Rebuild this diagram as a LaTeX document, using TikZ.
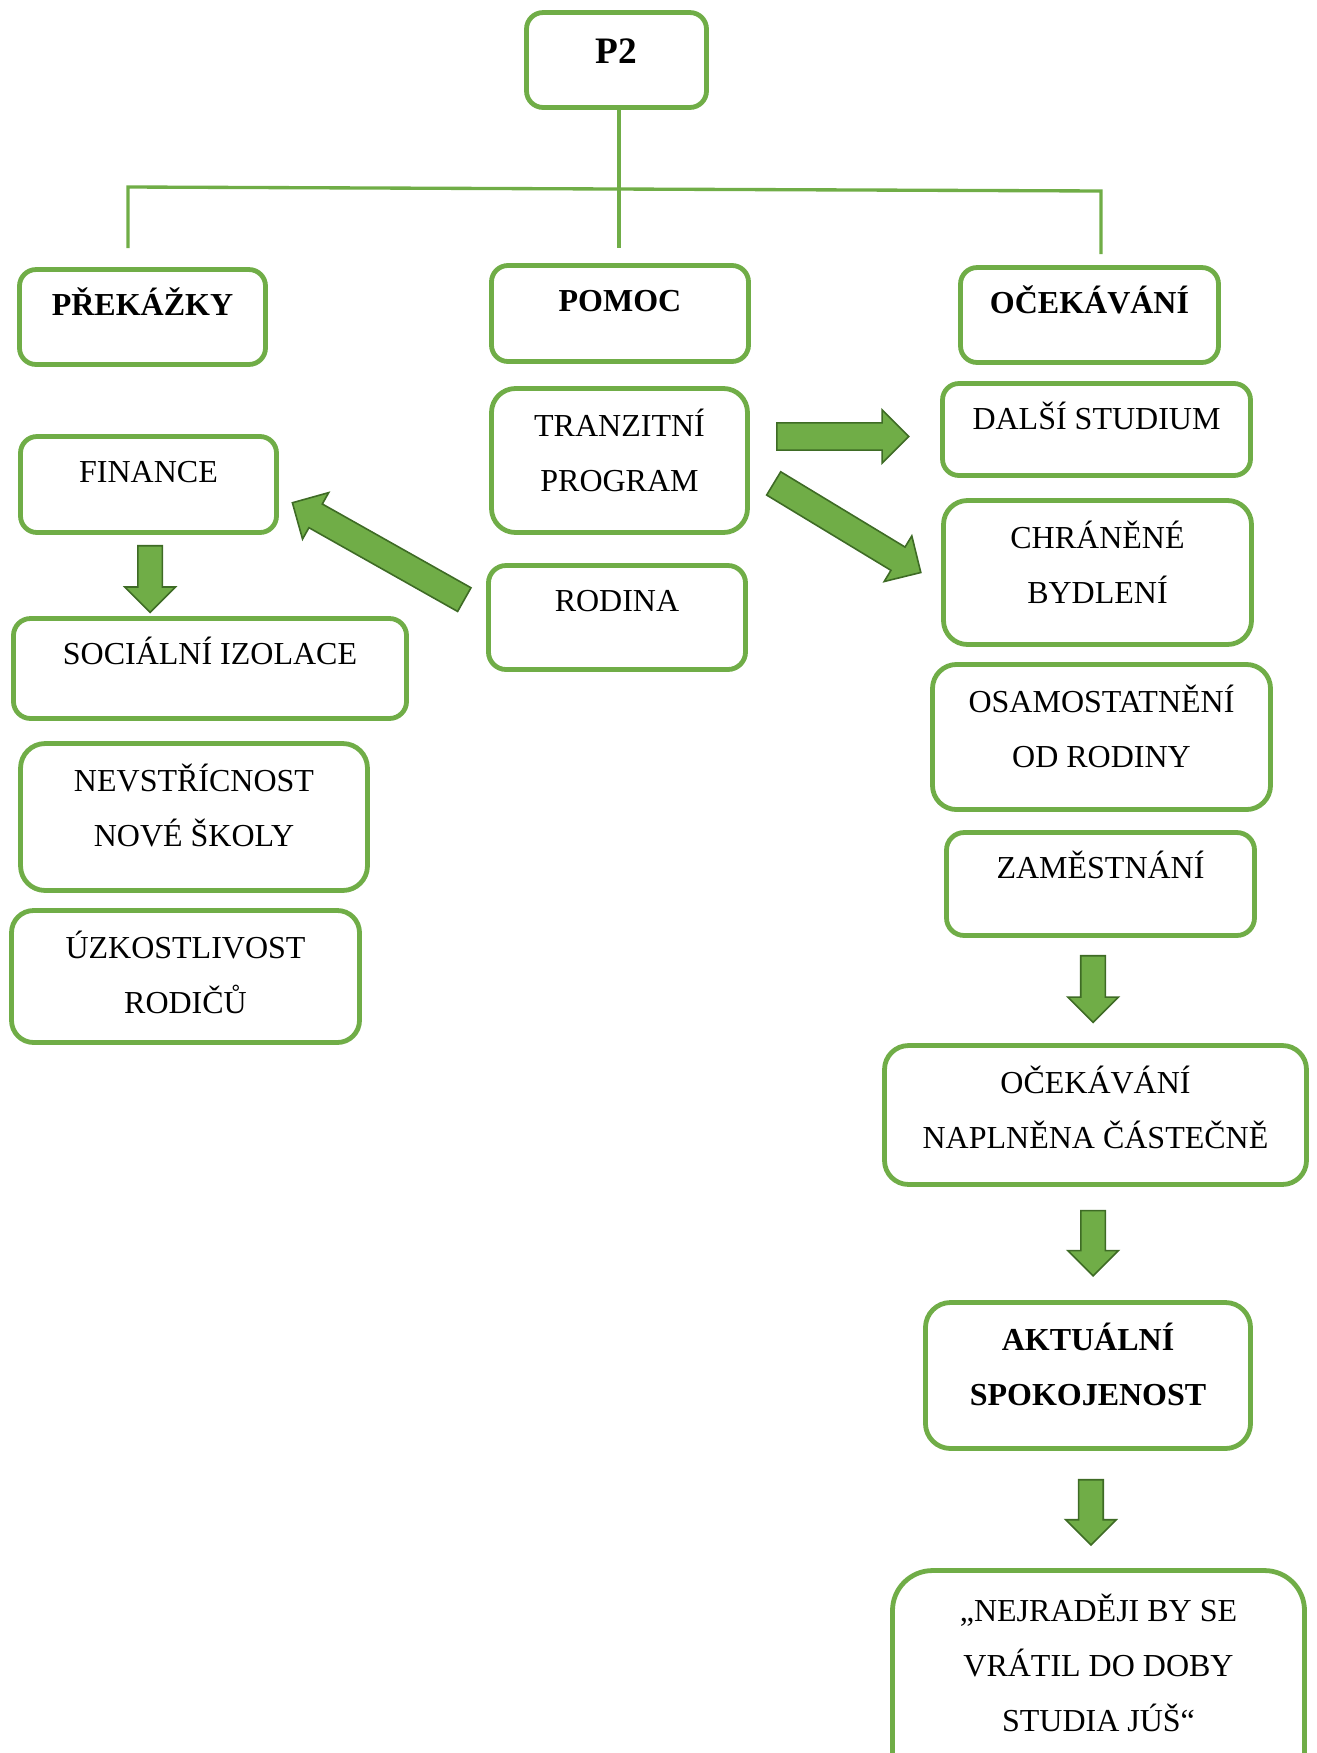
\documentclass[tikz,border=0pt]{standalone}
\usepackage{fontspec}
\setmainfont{Liberation Serif}
\usetikzlibrary{shapes.arrows,calc}

\definecolor{boxgreen}{HTML}{70AD47}
\definecolor{arrowline}{HTML}{3E6B25}

\tikzset{
  box/.style={draw=boxgreen, line width=1.8pt, rounded corners=#1, inner sep=0pt},
  box/.default=6.2pt,
  txt/.style={anchor=north, inner sep=0pt, yshift=-6.5pt, align=center,
    execute at begin node={\rule{0pt}{11.5pt}},
    font=\fontsize{12}{20.6}\selectfont},
  twoline/.style={txt, yshift=-1.9pt},
  bold/.style={font=\fontsize{12}{20.6}\selectfont\bfseries},
  branch/.style={draw=boxgreen, line width=1.25pt},
  blockarrow/.style={single arrow, draw=arrowline, fill=boxgreen, line width=0.6pt,
    inner xsep=0pt, inner ysep=4.8pt, single arrow head extend=4.9pt,
    single arrow tip angle=90, anchor=tail},
  downarrow/.style={blockarrow, inner ysep=4.3pt, rotate=-90},
}

\begin{document}
\begin{tikzpicture}[x=0.375pt, y=-0.375pt]
\useasboundingbox (0,0) rectangle (1317,1753);

% top and the three branches
\node[box, minimum width=67.5pt, minimum height=35.6pt,
  label={[txt, yshift=-1.9pt, font=\fontsize{14}{20}\selectfont\bfseries]north:P2}] (p2) at (616.5,60) {};
\node[box, minimum width=92.25pt, minimum height=35.6pt, label={[txt, bold]north:PŘEKÁŽKY}] (prek) at (142.5,317) {};
\node[box, minimum width=96.4pt, minimum height=36pt, label={[txt, bold]north:POMOC}] (pomoc) at (620,313.5) {};
\node[box, minimum width=96.75pt, minimum height=35.6pt, label={[txt, bold]north:OČEKÁVÁNÍ}] (ocek) at (1089.5,315) {};

\coordinate (midend) at (619,248);
\coordinate (leftend) at (128,248);
\coordinate (rightend) at (1101,254);
\draw[branch] (midend |- p2.south) -- (midend);
\draw[branch] (leftend) -- (128,187) -- (1101,191) -- (rightend);

% left column
\node[box, minimum width=96pt, minimum height=36pt, label={[txt]north:FINANCE}] (fin) at (148.5,484.5) {};
\node[box=6.4pt, minimum width=147.4pt, minimum height=37.5pt, label={[txt]north:SOCIÁLNÍ IZOLACE}] (soc) at (210,668.5) {};
\node[box=9.2pt, minimum width=130.1pt, minimum height=55.1pt, label={[twoline]north:NEVSTŘÍCNOST\\NOVÉ ŠKOLY}] (nevst) at (194,817) {};
\node[box=8.3pt, minimum width=130.5pt, minimum height=49.5pt, label={[twoline]north:ÚZKOSTLIVOST\\RODIČŮ}] (uzk) at (185.5,976.5) {};

% middle column
\node[box=9pt, minimum width=96pt, minimum height=54pt, label={[twoline]north:TRANZITNÍ\\PROGRAM}] (tranz) at (619.5,460.5) {};
\node[box=6.6pt, minimum width=96.4pt, minimum height=39pt, label={[txt]north:RODINA}] (rod) at (617,617.5) {};

% right column
\node[box, minimum width=115.5pt, minimum height=34.5pt, label={[txt]north:DALŠÍ STUDIUM}] (dalsi) at (1096.5,429.5) {};
\node[box=9pt, minimum width=115.5pt, minimum height=54pt, label={[twoline]north:CHRÁNĚNÉ\\BYDLENÍ}] (chran) at (1097.5,572.5) {};
\node[box=9pt, minimum width=126.75pt, minimum height=54.4pt, label={[twoline]north:OSAMOSTATNĚNÍ\\OD RODINY}] (osam) at (1101.5,737) {};
\node[box=6.6pt, minimum width=115.5pt, minimum height=38.6pt, label={[txt]north:ZAMĚSTNÁNÍ}] (zam) at (1100.5,884) {};
\node[box=9pt, minimum width=158.25pt, minimum height=52.1pt, label={[twoline]north:OČEKÁVÁNÍ\\NAPLNĚNA ČÁSTEČNĚ}] (napl) at (1095.5,1115) {};
\node[box=9.4pt, minimum width=121.9pt, minimum height=54.75pt, label={[twoline, bold]north:AKTUÁLNÍ\\SPOKOJENOST}] (akt) at (1088,1375.5) {};
\node[box=15pt, minimum width=154.5pt, minimum height=88.1pt, label={[twoline, yshift=-1pt]north:„NEJRADĚJI BY SE\\VRÁTIL DO DOBY\\STUDIA JÚŠ“}] (nejr) at (1098.5,1688) {};

% block arrows (placed by their tails)
\node[blockarrow, minimum height=49.5pt] (tr-da) at (776,436.5) {};
\node[blockarrow, minimum height=64.5pt, rotate=-31.2] (tr-ch) at (773,483) {};
\node[blockarrow, minimum height=74pt, rotate=150.6] (ro-fi) at (465,600) {};
\node[downarrow, minimum height=25pt] (fi-so) at ([xshift=0.6pt, yshift=-3.75pt]fin.south) {};
\node[downarrow, minimum height=25pt] (za-na) at ([xshift=-2.8pt, yshift=-6.4pt]zam.south) {};
\node[downarrow, minimum height=24.5pt] (na-ak) at ([xshift=-0.9pt, yshift=-8.6pt]napl.south) {};
\node[downarrow, minimum height=24.5pt] (ak-ne) at ([xshift=1.1pt, yshift=-10.5pt]akt.south) {};
\end{tikzpicture}
\end{document}
